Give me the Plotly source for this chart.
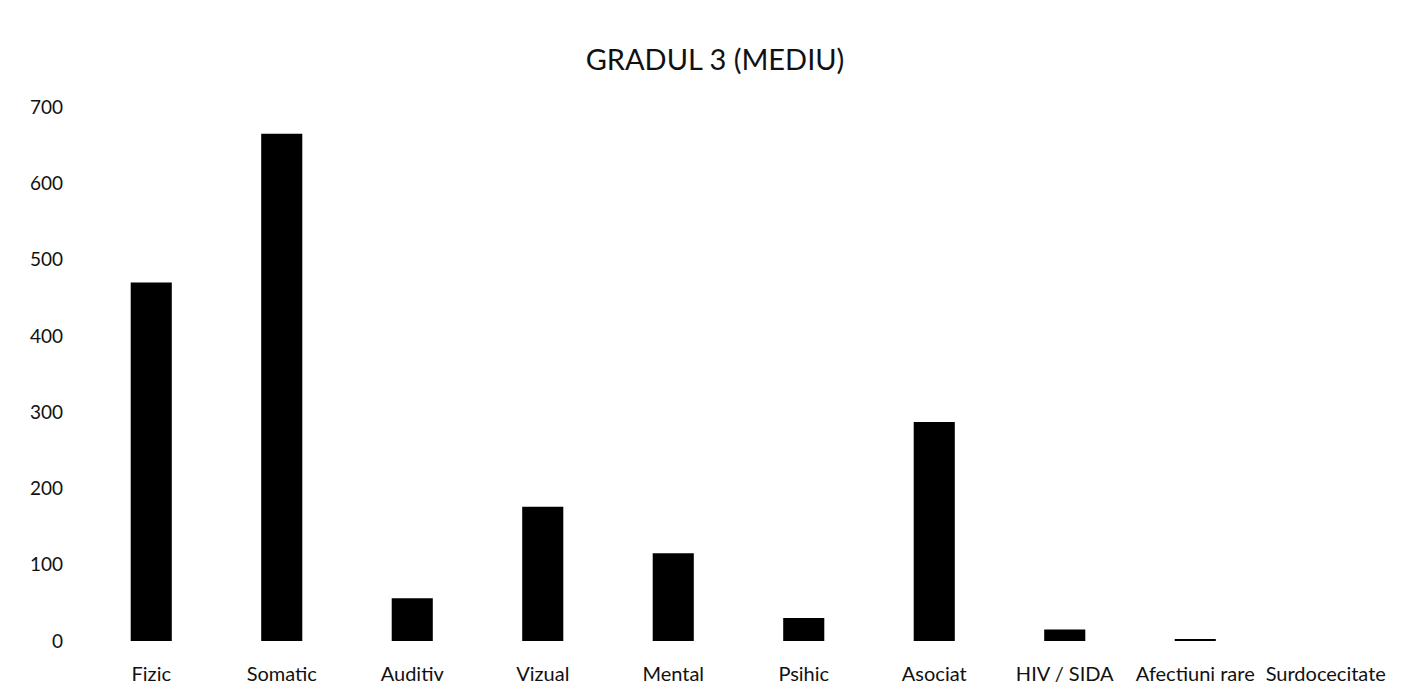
import plotly.graph_objects as go

categories = ["Fizic", "Somatic", "Auditiv", "Vizual", "Mental", "Psihic",
              "Asociat", "HIV / SIDA", "Afectiuni rare", "Surdocecitate"]
values = [470, 665, 56, 176, 115, 30, 287, 15, 2, 0]
y_ticks = [0, 100, 200, 300, 400, 500, 600, 700]
title_text = "GRADUL 3 (MEDIU)"

fig = go.Figure(
    go.Bar(x=categories, y=values, marker=dict(color="#000000", line=dict(width=0)))
)

fig.update_layout(
    width=1414, height=692, autosize=False,
    margin=dict(l=78, r=31, t=99, b=59),
    paper_bgcolor="white", plot_bgcolor="white",
    bargap=0.685,
    showlegend=False,
    font=dict(family="Lato, 'Open Sans', sans-serif", size=19, color="#111111"),
    title=dict(text=title_text, x=0.5, xanchor="center", y=0.925, yanchor="middle",
               font=dict(family="Lato, 'Open Sans', sans-serif", size=29, color="#111111")),
)
fig.update_xaxes(showgrid=False, showline=False, zeroline=False, ticks="",
                 ticklabelstandoff=19, tickfont=dict(size=20))
fig.update_yaxes(range=[0, 700], tickvals=y_ticks, showgrid=False, showline=False,
                 zeroline=False, ticks="", ticklabelstandoff=22, tickfont=dict(size=19))

fig.write_html("out.html")
